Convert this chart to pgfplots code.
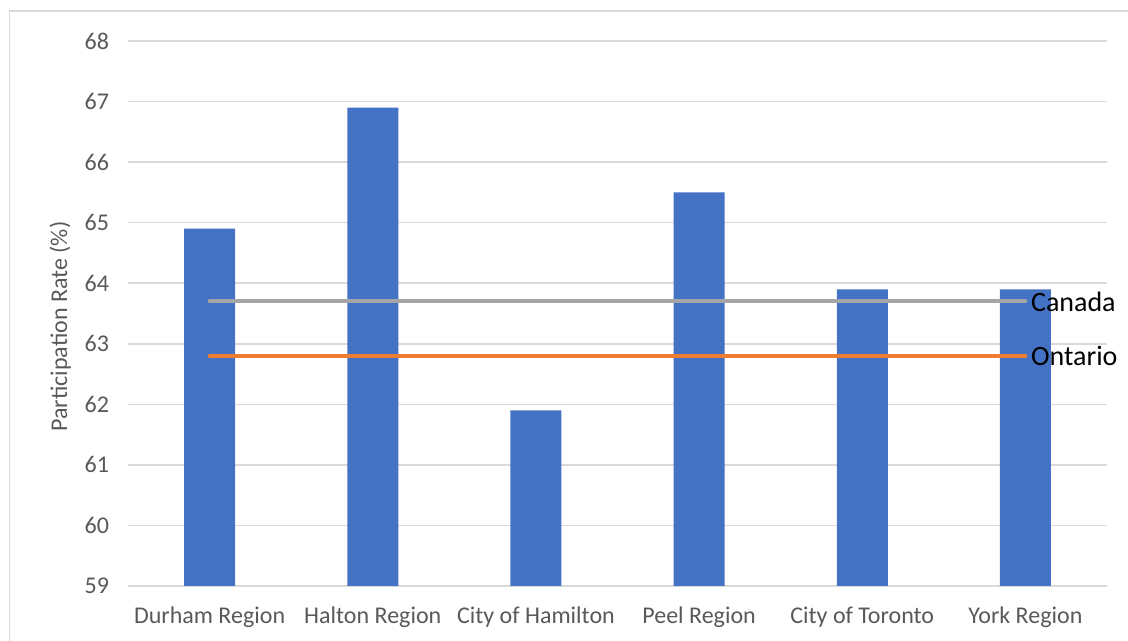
\documentclass[border=0pt]{standalone}
\usepackage{fontspec}
\setmainfont{Carlito}
\usepackage{pgfplots}
\pgfplotsset{compat=1.18}
\definecolor{barblue}{HTML}{4472C4}
\definecolor{gridgray}{HTML}{D9D9D9}
\definecolor{txtgray}{HTML}{595959}
\definecolor{cangray}{HTML}{A5A5A5}
\definecolor{ontorange}{HTML}{ED7D31}
\begin{document}
\begin{tikzpicture}
\useasboundingbox (0,0) rectangle (564pt,320.5pt);
\draw[gridgray, line width=0.75pt] (4.75pt,-2pt) -- (4.75pt,315pt) -- (566pt,315pt);
\begin{axis}[
  at={(64pt,27.5pt)}, anchor=south west,
  scale only axis, width=489.5pt, height=272.5pt,
  xmin=-0.5, xmax=5.5, ymin=59, ymax=68,
  ytick={59,60,...,68},
  xtick={0,...,5},
  xticklabels={Durham Region, Halton Region, City of Hamilton, Peel Region, City of Toronto, York Region},
  axis line style={draw=none},
  ymajorgrids, grid style={gridgray, line width=0.75pt},
  major tick length=0pt,
  tick label style={font=\fontsize{12}{14}\selectfont, text=txtgray},
  /pgf/number format/assume math mode=true,
  yticklabel style={xshift=-6pt},
  xticklabel style={yshift=-7pt},
  ylabel={Participation Rate (\%)},
  ylabel style={font=\fontsize{12}{14}\selectfont, text=txtgray, yshift=0pt, xshift=-6.5pt},
  clip=false,
]
\addplot[ybar, bar width=25.5pt, fill=barblue, draw=none] coordinates {
  (0,64.9) (1,66.9) (2,61.9) (3,65.5) (4,63.9) (5,63.9)
};
\addplot[cangray, line width=2pt, line cap=round] coordinates {(0,63.7) (5,63.7)}
  node[pos=1, anchor=west, text=black, font=\fontsize{14}{16}\selectfont, xshift=-1.5pt] {Canada};
\addplot[ontorange, line width=2pt, line cap=round] coordinates {(0,62.8) (5,62.8)}
  node[pos=1, anchor=west, text=black, font=\fontsize{14}{16}\selectfont, xshift=-1.5pt] {Ontario};
\end{axis}
\end{tikzpicture}
\end{document}
